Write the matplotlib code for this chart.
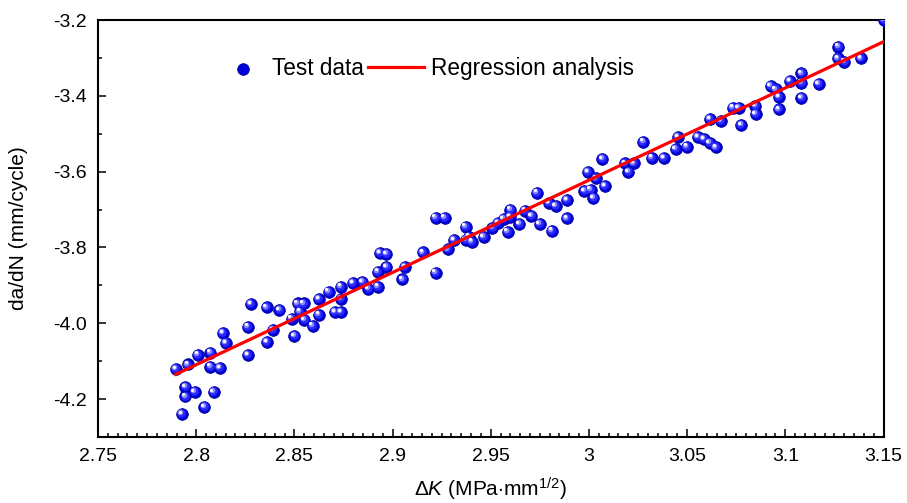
import matplotlib

matplotlib.use('Agg')

import matplotlib.pyplot as plt
import matplotlib.transforms as mtransforms
from matplotlib.legend_handler import HandlerPathCollection
from matplotlib.ticker import MultipleLocator, FormatStrFormatter
import numpy as np


plt.rcParams.update({
    'font.family': ['Liberation Sans', 'DejaVu Sans'],
    'font.size': 14,
    'mathtext.fontset': 'custom',
    'mathtext.rm': 'Liberation Sans',
    'mathtext.it': 'Liberation Sans:italic',
    'mathtext.bf': 'Liberation Sans:bold',
})

# test data: delta K vs log crack growth rate
dk = [2.7896, 2.7960, 2.8009, 2.8073, 2.8073, 2.8121, 2.8136, 2.8152, 2.7945, 2.7945,
      2.7992, 2.8089, 2.8042, 2.7928, 2.8280, 2.8359, 2.8424, 2.8265, 2.8265, 2.8392,
      2.8360, 2.8486, 2.8517, 2.8547, 2.8530, 2.8551, 2.8593, 2.8627, 2.8627, 2.8674,
      2.8737, 2.8737, 2.8706, 2.8737, 2.8799, 2.8847, 2.8877, 2.8926, 2.8925, 2.8969,
      2.8937, 2.8969, 2.9063, 2.9050, 2.8500, 2.9156, 2.9219, 2.9265, 2.9219, 2.9280,
      2.9312, 2.9372, 2.9372, 2.9388, 2.9405, 2.9464, 2.9509, 2.9537, 2.9566, 2.9600,
      2.9598, 2.9586, 2.9646, 2.9676, 2.9707, 2.9735, 2.9749, 2.9796, 2.9830, 2.9812,
      2.9887, 2.9887, 2.9994, 3.0036, 2.9977, 3.0009, 3.0082, 3.0023, 3.0069, 3.0184,
      3.0231, 3.0201, 3.0277, 3.0321, 3.0381, 3.0441, 3.0454, 3.0499, 3.0556, 3.0586,
      3.0615, 3.0647, 3.0616, 3.0674, 3.0734, 3.0762, 3.0776, 3.0848, 3.0849, 3.0925,
      3.0951, 3.0967, 3.0967, 3.1025, 3.1082, 3.1082, 3.1082, 3.1169, 3.1270, 3.1268,
      3.1301, 3.1384, 3.1500]
dadn = [-4.1206, -4.1087, -4.0824, -4.0776, -4.1145, -4.1185, -4.0264, -4.0515, -4.1676, -4.1931,
        -4.1807, -4.1807, -4.2216, -4.2393, -3.9491, -3.9579, -3.9655, -4.0085, -4.0837, -4.0177,
        -4.0489, -3.9879, -3.9478, -3.9478, -3.9689, -3.9913, -4.0059, -3.9774, -3.9367, -3.9167,
        -3.9035, -3.9367, -3.9702, -3.9702, -3.8945, -3.8919, -3.9101, -3.9035, -3.8639, -3.8515,
        -3.8154, -3.8172, -3.8508, -3.8840, -4.0343, -3.8128, -3.7215, -3.7215, -3.8666, -3.8049,
        -3.7811, -3.7452, -3.7803, -3.7716, -3.7848, -3.7724, -3.7487, -3.7349, -3.7257, -3.7004,
        -3.7197, -3.7584, -3.7386, -3.7030, -3.7165, -3.6550, -3.7386, -3.6827, -3.6906, -3.7553,
        -3.6748, -3.7231, -3.6002, -3.6176, -3.6505, -3.6476, -3.6373, -3.6703, -3.5667, -3.5780,
        -3.5780, -3.6009, -3.5210, -3.5627, -3.5635, -3.5408, -3.5086, -3.5342, -3.5086, -3.5139,
        -3.5245, -3.5358, -3.4619, -3.4669, -3.4308, -3.4321, -3.4775, -3.4276, -3.4472, -3.3736,
        -3.3828, -3.4031, -3.4356, -3.3609, -3.3406, -3.3649, -3.4065, -3.3688, -3.2704, -3.3010,
        -3.3100, -3.3010, -3.2000]

# regression line
reg_slope = 2.4345
reg_icpt = -10.926
reg_x = [2.7896, 3.15]

fig = plt.figure(figsize=(9.07, 5.03), dpi=100)
ax = fig.add_axes([0.108, 0.1312, 0.8661, 0.829])

S = 70
# fake a shaded sphere with a few stacked layers
ax.scatter(dk, dadn, s=S, color='#0000d8', edgecolors='#00009a', linewidths=0.6, zorder=3)
for frac, col, off in [(0.55, '#2a2aff', 0.6), (0.22, '#8c8cff', 1.3), (0.07, '#ffffff', 1.6)]:
    tr = mtransforms.offset_copy(ax.transData, fig=fig, x=-off, y=off, units='points')
    ax.scatter(dk, dadn, s=S * frac, color=col, linewidths=0, zorder=3.1, transform=tr)

rx = np.array(reg_x)
ax.plot(rx, reg_slope * rx + reg_icpt, color='#ff0000', lw=2.3, zorder=4)

# legend handles (drawn off-axes)
h1 = ax.scatter([], [], s=S, color='#0000d8', edgecolors='#00009a', linewidths=0.6)
h2, = ax.plot([], [], color='#ff0000', lw=2.3)
ax.legend([h1, h2], ['Test data', 'Regression analysis'], ncol=2, frameon=False,
          loc='upper left', bbox_to_anchor=(0.122, 0.95), fontsize=16.3,
          handlelength=2.45, handletextpad=0.3, columnspacing=0.2, borderpad=0.2,
          handler_map={h1: HandlerPathCollection(numpoints=1, xpad=0.5)})

ax.set_xlim(2.75, 3.15)
ax.set_ylim(-4.3, -3.2)
ax.xaxis.set_major_locator(MultipleLocator(0.05))
ax.xaxis.set_minor_locator(MultipleLocator(0.005))
ax.xaxis.set_major_formatter(FormatStrFormatter('%g'))
ax.yaxis.set_major_locator(MultipleLocator(0.2))
ax.yaxis.set_minor_locator(MultipleLocator(0.1))
ax.yaxis.set_major_formatter(FormatStrFormatter('%.1f'))
ax.tick_params(which='both', direction='in', top=False, right=False, width=1.1)
ax.tick_params(which='major', length=6, labelsize=14, pad=8)
ax.tick_params(which='minor', length=3)
for sp in ax.spines.values():
    sp.set_linewidth(1.5)

ax.set_xlabel(r'$\Delta\mathit{K}$ (MPa$\cdot$mm$^{1/2}$)', fontsize=15, labelpad=8)
ax.set_ylabel('da/dN (mm/cycle)', fontsize=15, labelpad=18)

fig.savefig('out.png', dpi=100)
